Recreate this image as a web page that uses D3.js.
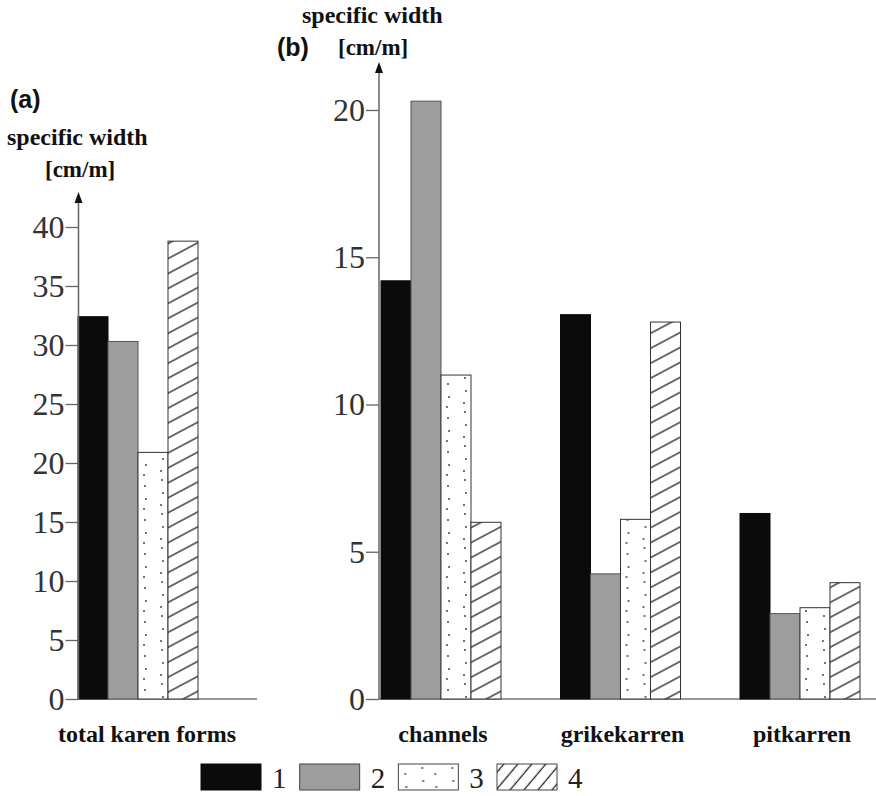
<!DOCTYPE html>
<html>
<head>
<meta charset="utf-8">
<script src="https://cdn.jsdelivr.net/npm/d3@7"></script>
<style>
  body { margin: 0; background: #fff; }
  svg text { font-family: "Liberation Serif", "Times New Roman", serif; }
</style>
</head>
<body>
<div id="chart"></div>
<script>
// data
let series = ["1", "2", "3", "4"];

let groupsA = ["total karen forms"];
let valuesA = [[32.4, 30.3, 20.9, 38.8]];

let groupsB = ["channels", "grikekarren", "pitkarren"];
let valuesB = [
  [14.2, 20.3, 11.0, 6.0],
  [13.05, 4.25, 6.1, 12.8],
  [6.3, 2.9, 3.1, 3.95]
];

let ticksA = [0, 5, 10, 15, 20, 25, 30, 35, 40];
let ticksB = [0, 5, 10, 15, 20];

let width = 876;
let height = 796;
let baseY = 699;

let svg = d3
  .select("#chart")
  .append("svg")
  .attr("width", width)
  .attr("height", height);

let defs = svg.append("defs");

// hatch for bars
let hatch = defs
  .append("pattern")
  .attr("id", "hatch")
  .attr("patternUnits", "userSpaceOnUse")
  .attr("width", 10)
  .attr("height", 13.2)
  .attr("patternTransform", "rotate(-28)");
hatch.append("rect").attr("width", 10).attr("height", 13.2).attr("fill", "#fff");
hatch.append("line")
  .attr("x1", 0).attr("x2", 10).attr("y1", 6.6).attr("y2", 6.6)
  .attr("stroke", "#222").attr("stroke-width", 1.3);

// steeper hatch for the legend box
let hatchL = defs
  .append("pattern")
  .attr("id", "hatchL")
  .attr("patternUnits", "userSpaceOnUse")
  .attr("width", 10)
  .attr("height", 10.7)
  .attr("patternTransform", "rotate(-50)");
hatchL.append("rect").attr("width", 10).attr("height", 10.7).attr("fill", "#fff");
hatchL.append("line")
  .attr("x1", 0).attr("x2", 10).attr("y1", 5.3).attr("y2", 5.3)
  .attr("stroke", "#222").attr("stroke-width", 1.3);

// sparse dots
let dots = defs
  .append("pattern")
  .attr("id", "dots")
  .attr("patternUnits", "userSpaceOnUse")
  .attr("x", 137)
  .attr("width", 30)
  .attr("height", 34);
dots.append("rect").attr("width", 30).attr("height", 34).attr("fill", "#fff");
[[7, 4], [20, 10], [8, 17], [21, 23], [6, 29], [19, 33]].forEach(function(p) {
  dots.append("circle").attr("cx", p[0]).attr("cy", p[1]).attr("r", 1).attr("fill", "#444");
});

let fills = ["#0b0b0b", "#9d9d9d", "url(#dots)", "url(#hatch)"];
let strokes = ["#0b0b0b", "#555", "#333", "#333"];

function drawPanel(groups, values, ticks, yScale, xGroup, axisX, baseEnd, arrowTop) {
  let xSeries = d3.scaleBand().domain(series).range([0, xGroup.bandwidth()]);

  // baseline
  svg.append("line")
    .attr("x1", axisX).attr("x2", baseEnd)
    .attr("y1", baseY).attr("y2", baseY)
    .attr("stroke", "#777").attr("stroke-width", 1.5);

  let g = svg.selectAll(null)
    .data(groups)
    .enter()
    .append("g")
    .attr("transform", function(d) { return "translate(" + xGroup(d) + ",0)"; });

  g.selectAll("rect")
    .data(function(d, i) {
      return values[i].map(function(v, j) { return { s: series[j], v: v, j: j }; });
    })
    .enter()
    .append("rect")
    .attr("x", function(d) { return xSeries(d.s); })
    .attr("y", function(d) { return yScale(d.v); })
    .attr("width", xSeries.bandwidth())
    .attr("height", function(d) { return yScale(0) - yScale(d.v); })
    .attr("fill", function(d) { return fills[d.j]; })
    .attr("stroke", function(d) { return strokes[d.j]; })
    .attr("stroke-width", 1);

  let yAxis = d3.axisLeft(yScale)
    .tickValues(ticks)
    .tickSize(13)
    .tickPadding(1)
    .tickFormat(d3.format("d"));

  let ax = svg.append("g")
    .attr("transform", "translate(" + axisX + ",0)")
    .call(yAxis);
  ax.select(".domain").remove();
  ax.selectAll(".tick line").attr("stroke", "#666").attr("stroke-width", 1.3);
  ax.selectAll(".tick text")
    .attr("font-size", 32)
    .attr("fill", "#333");

  // axis line with arrow
  svg.append("line")
    .attr("x1", axisX).attr("x2", axisX)
    .attr("y1", baseY).attr("y2", arrowTop + 8)
    .attr("stroke", "#666").attr("stroke-width", 1.5);
  svg.append("path")
    .attr("d", "M" + axisX + "," + arrowTop + "L" + (axisX - 4) + "," + (arrowTop + 11) +
      "L" + (axisX + 4) + "," + (arrowTop + 11) + "Z")
    .attr("fill", "#111");

  return g;
}

// panel (a)
let yA = d3.scaleLinear().domain([0, 40]).range([baseY, 227]);
let xA = d3.scaleBand().domain(groupsA).range([78, 198]);
let gA = drawPanel(groupsA, valuesA, ticksA, yA, xA, 78.5, 257, 192);
gA.append("text")
  .attr("x", xA.bandwidth() / 2 + 9)
  .attr("y", 742)
  .attr("text-anchor", "middle")
  .attr("font-weight", "bold")
  .attr("font-size", 24)
  .attr("fill", "#111")
  .text(function(d) { return d; });

// panel (b)
let yB = d3.scaleLinear().domain([0, 20]).range([baseY, 110]);
let xB = d3.scaleBand().domain(groupsB).range([381, 860]).paddingInner(0.3315);
let gB = drawPanel(groupsB, valuesB, ticksB, yB, xB, 379, 876, 62);
gB.append("text")
  .attr("x", xB.bandwidth() / 2 + 2)
  .attr("y", 742)
  .attr("text-anchor", "middle")
  .attr("font-weight", "bold")
  .attr("font-size", 24)
  .attr("fill", "#111")
  .text(function(d) { return d; });

// titles
function label(x, y, txt, size, sans) {
  let t = svg.append("text")
    .attr("x", x)
    .attr("y", y)
    .attr("font-size", size)
    .attr("font-weight", "bold")
    .attr("fill", "#111")
    .text(txt);
  if (sans) t.style("font-family", "Liberation Sans, Arial, sans-serif");
}
label(10, 108, "(a)", 25, true);
label(7, 145, "specific width", 24);
label(45, 177, "[cm/m]", 23);
label(277, 56, "(b)", 25, true);
label(302, 23, "specific width", 24);
label(338, 55, "[cm/m]", 23);

// legend
let legendFills = ["#0b0b0b", "#9d9d9d", "url(#dots)", "url(#hatchL)"];
let xLeg = d3.scalePoint().domain(series).range([201, 497]);

let leg = svg.selectAll(".leg")
  .data(series)
  .enter()
  .append("g")
  .attr("class", "leg")
  .attr("transform", function(d) { return "translate(" + xLeg(d) + ",764)"; });

leg.append("rect")
  .attr("width", 60)
  .attr("height", 26)
  .attr("fill", function(d, i) { return legendFills[i]; })
  .attr("stroke", function(d, i) { return i === 0 ? "#0b0b0b" : "#444"; })
  .attr("stroke-width", 1);

leg.append("text")
  .attr("x", 71)
  .attr("y", 24)
  .attr("font-size", 29)
  .attr("fill", "#222")
  .text(function(d) { return d; });
</script>
</body>
</html>
